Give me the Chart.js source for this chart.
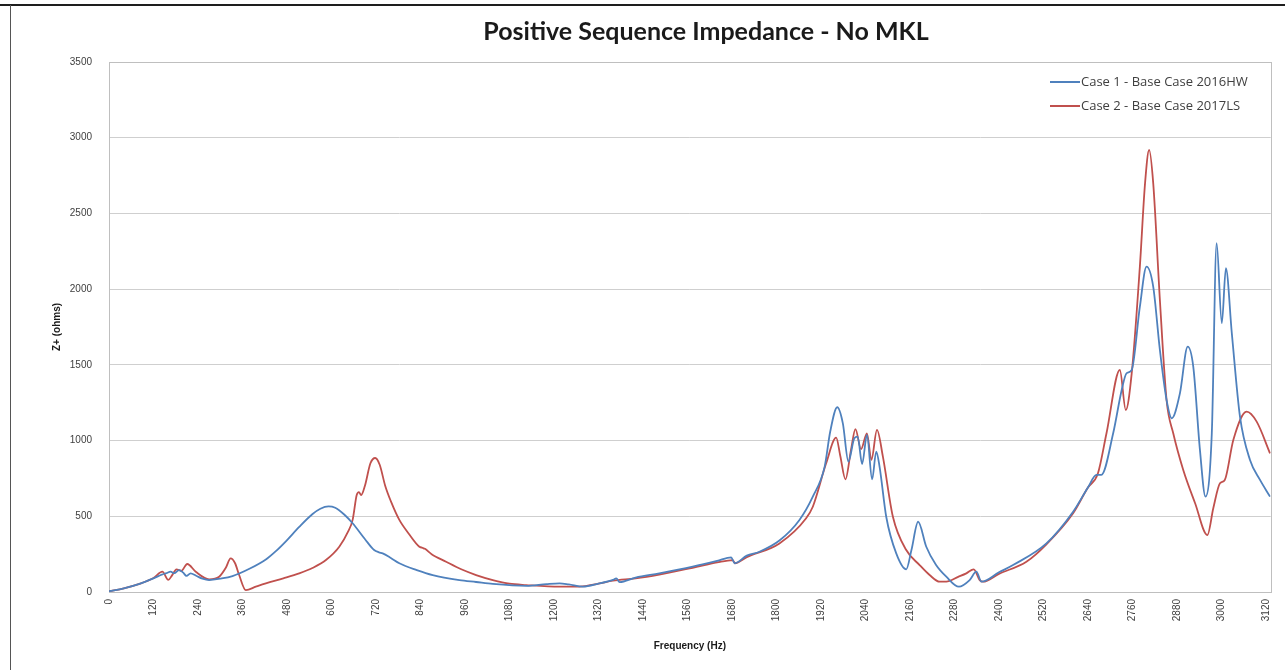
<!DOCTYPE html>
<html>
<head>
<meta charset="utf-8">
<title>Positive Sequence Impedance - No MKL</title>
<script src="https://cdn.jsdelivr.net/npm/chart.js@4.4.0/dist/chart.umd.min.js"></script>
<style>
  html, body { margin: 0; padding: 0; background: #fff; }
  #wrap { position: relative; width: 1285px; height: 670px; overflow: hidden; }
  #topRule { position: absolute; left: 0; right: 0; top: 4px; height: 2px; background: #1e1e1e; }
  #leftRule { position: absolute; left: 10px; top: 5px; bottom: 0; width: 1px; background: #555; }
</style>
</head>
<body>
<div id="wrap">
  <canvas id="chart" width="1285" height="670"></canvas>
  <div id="topRule"></div>
  <div id="leftRule"></div>
</div>
<script>
// Frequency sweep samples (Hz) and impedance magnitude (ohms) for each case
const case1Freq = [0, 40, 80, 120, 144, 155, 166, 176, 189, 200, 209, 220, 235, 252, 270, 300, 333, 380, 423, 450,
  477, 513, 549, 570, 592, 610, 635, 657, 690, 715, 728, 738, 760, 783, 830, 873, 945, 990, 1035, 1125,
  1180, 1215, 1240, 1278, 1320, 1359, 1368, 1377, 1420, 1484, 1574, 1640, 1678, 1687, 1720, 1754, 1808, 1862, 1898, 1930,
  1945, 1964, 1979, 1994, 2010, 2019, 2031, 2044, 2058, 2069, 2078, 2096, 2123, 2150, 2164, 2182, 2204, 2230, 2258, 2292,
  2321, 2339, 2353, 2400, 2438, 2528, 2600, 2640, 2663, 2676, 2708, 2731, 2744, 2758, 2780, 2798, 2816, 2834, 2852, 2866,
  2888, 2909, 2924, 2942, 2957, 2974, 2987, 3001, 3012, 3028, 3050, 3077, 3104, 3131];
const case1Z = [5, 24, 52, 90, 116, 124, 134, 124, 145, 128, 106, 123, 107, 88, 79, 88, 105, 155, 215, 270,
  335, 430, 515, 550, 565, 556, 510, 454, 350, 277, 262, 255, 225, 190, 145, 112, 79, 66, 53, 40,
  52, 57, 50, 35, 55, 80, 90, 65, 95, 123, 167, 205, 229, 190, 240, 266, 340, 476, 630, 828,
  1060, 1220, 1114, 861, 1015, 1026, 845, 1037, 744, 927, 828, 497, 255, 150, 277, 464, 299, 180, 101, 35,
  79, 134, 68, 130, 178, 321, 530, 690, 773, 773, 1048, 1334, 1444, 1466, 1884, 2149, 2017, 1598, 1268, 1147,
  1312, 1620, 1488, 938, 630, 1048, 2303, 1775, 2138, 1708, 1158, 872, 740, 630];

const case2Freq = [0, 40, 80, 120, 144, 160, 170, 182, 195, 211, 234, 270, 297, 315, 328, 340, 351, 369, 396, 423,
  470, 513, 550, 585, 621, 645, 657, 668, 674, 680, 690, 705, 718, 730, 745, 760, 783, 810, 837, 845,
  852, 870, 909, 950, 990, 1035, 1080, 1125, 1215, 1269, 1320, 1359, 1420, 1484, 1574, 1640, 1682, 1688, 1720, 1808,
  1880, 1898, 1934, 1961, 1972, 1986, 2001, 2013, 2028, 2044, 2056, 2071, 2087, 2114, 2150, 2186, 2213, 2240, 2258, 2290,
  2312, 2332, 2348, 2357, 2400, 2474, 2528, 2600, 2640, 2667, 2690, 2726, 2742, 2758, 2780, 2794, 2805, 2816, 2834, 2852,
  2870, 2897, 2929, 2962, 2978, 2996, 3009, 3032, 3068, 3095, 3131];
const case2Z = [5, 24, 52, 92, 134, 80, 110, 150, 140, 185, 134, 84, 101, 160, 222, 190, 112, 12, 35, 57,
  90, 123, 160, 211, 299, 400, 476, 640, 660, 640, 700, 850, 885, 840, 700, 600, 476, 380, 299, 292,
  285, 250, 200, 150, 112, 79, 55, 46, 35, 35, 55, 75, 90, 115, 160, 195, 211, 190, 230, 321,
  487, 563, 850, 1019, 900, 744, 938, 1075, 943, 1048, 872, 1070, 894, 497, 277, 178, 112, 68, 68, 100,
  123, 150, 79, 68, 120, 200, 315, 520, 690, 784, 1048, 1466, 1202, 1444, 2149, 2700, 2919, 2700, 1928, 1268,
  1048, 806, 586, 376, 553, 718, 740, 1004, 1191, 1125, 916];

// Axis labels
const freqTicks = [0, 120, 240, 360, 480, 600, 720, 840, 960, 1080, 1200, 1320, 1440, 1560, 1680,
  1800, 1920, 2040, 2160, 2280, 2400, 2520, 2640, 2760, 2880, 3000, 3120];
const impedanceTicks = [0, 500, 1000, 1500, 2000, 2500, 3000, 3500];

const seriesLabels = ['Case 1 - Base Case 2016HW', 'Case 2 - Base Case 2017LS'];
const chartTitle = 'Positive Sequence Impedance - No MKL';
const xAxisTitle = 'Frequency (Hz)';
const yAxisTitle = 'Z+ (ohms)';
const xMax = 3133;

const toPoints = (xs, ys) => xs.map((x, i) => ({ x: x, y: ys[i] }));

// Chart title, plot frame and in-plot legend
const decorations = {
  id: 'decorations',
  beforeDatasetsDraw(chart) {
    const { ctx, chartArea: a } = chart;
    ctx.save();
    ctx.strokeStyle = '#bfbfbf';
    ctx.lineWidth = 1;
    ctx.strokeRect(Math.round(a.left) + 0.5, Math.round(a.top) + 0.5,
      Math.round(a.right - a.left), Math.round(a.bottom - a.top));
    ctx.restore();
  },
  afterDraw(chart) {
    const ctx = chart.ctx;
    ctx.save();
    ctx.fillStyle = '#1a1a1a';
    ctx.font = 'bold 25px Lato';
    ctx.textAlign = 'center';
    ctx.textBaseline = 'middle';
    ctx.fillText(chartTitle, 706, 32);

    ctx.font = '13px "Open Sans"';
    ctx.textAlign = 'left';
    chart.data.datasets.forEach((ds, i) => {
      const y = 82 + i * 24;
      ctx.strokeStyle = ds.borderColor;
      ctx.lineWidth = 2;
      ctx.beginPath();
      ctx.moveTo(1050, y);
      ctx.lineTo(1080, y);
      ctx.stroke();
      ctx.fillStyle = '#404040';
      ctx.fillText(ds.label, 1081, y);
    });
    ctx.restore();
  }
};

new Chart(document.getElementById('chart'), {
  type: 'line',
  data: {
    datasets: [
      {
        label: seriesLabels[0],
        data: toPoints(case1Freq, case1Z),
        borderColor: '#4f81bd',
        borderWidth: 1.8,
        pointRadius: 0,
        cubicInterpolationMode: 'monotone',
        fill: false
      },
      {
        label: seriesLabels[1],
        data: toPoints(case2Freq, case2Z),
        borderColor: '#c0504d',
        borderWidth: 1.8,
        pointRadius: 0,
        cubicInterpolationMode: 'monotone',
        fill: false
      }
    ]
  },
  options: {
    responsive: false,
    animation: false,
    devicePixelRatio: 1,
    layout: { padding: { top: 62, right: 14, bottom: 0, left: 0 } },
    plugins: {
      legend: { display: false },
      title: { display: false },
      tooltip: { enabled: false }
    },
    scales: {
      x: {
        type: 'linear',
        min: 0,
        max: xMax,
        afterFit(scale) { scale.height = 78; },
        afterBuildTicks(scale) {
          scale.ticks = freqTicks.map(v => ({ value: v }));
        },
        grid: { display: false, drawTicks: false },
        border: { display: false },
        ticks: {
          minRotation: 90,
          maxRotation: 90,
          padding: 7,
          autoSkip: false,
          color: '#404040',
          font: { family: 'Liberation Sans', size: 10 },
          callback: v => String(v)
        },
        title: {
          display: true,
          text: xAxisTitle,
          color: '#1a1a1a',
          font: { family: 'Liberation Sans', size: 10, weight: 'bold' },
          padding: { top: 0, bottom: 18 }
        }
      },
      y: {
        min: 0,
        max: impedanceTicks[impedanceTicks.length - 1],
        afterFit(scale) { scale.width = 109; },
        afterBuildTicks(scale) {
          scale.ticks = impedanceTicks.map(v => ({ value: v }));
        },
        grid: { color: '#cfcfcf', lineWidth: 1, drawTicks: false },
        border: { display: false },
        ticks: {
          padding: 17,
          color: '#404040',
          font: { family: 'Liberation Sans', size: 10 },
          callback: v => String(v)
        },
        title: {
          display: true,
          text: yAxisTitle,
          color: '#1a1a1a',
          font: { family: 'Liberation Sans', size: 10, weight: 'bold' },
          padding: { top: 51, bottom: 0 }
        }
      }
    }
  },
  plugins: [decorations]
});
</script>
</body>
</html>
